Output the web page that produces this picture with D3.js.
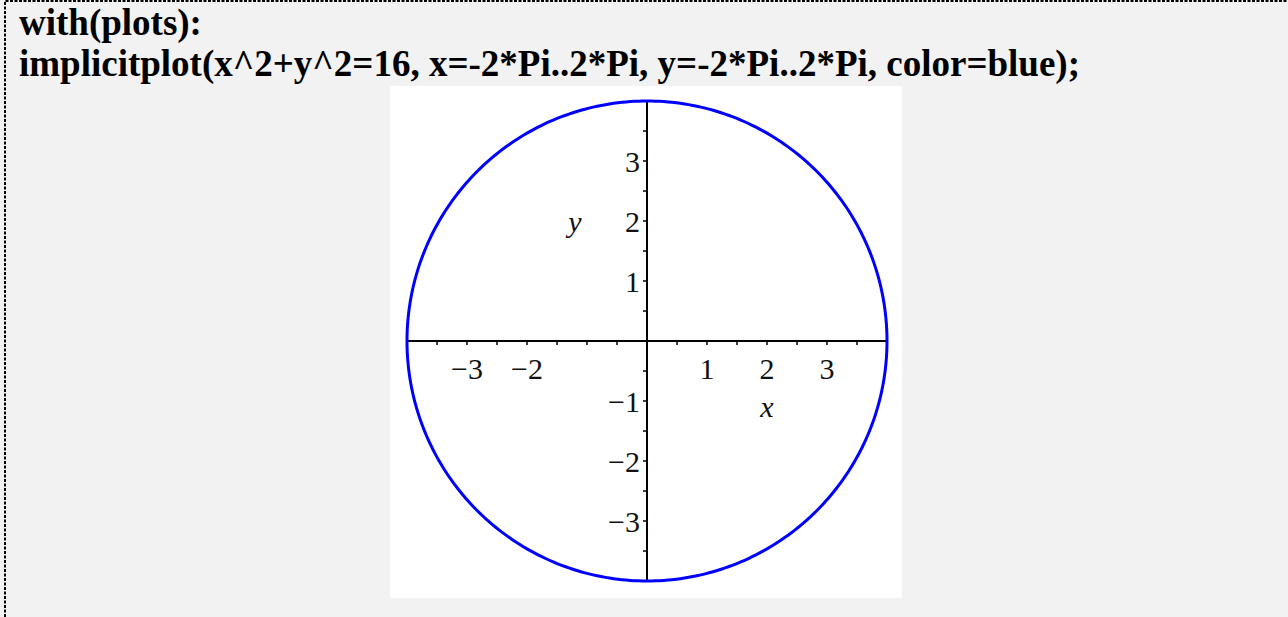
<!DOCTYPE html>
<html>
<head>
<meta charset="utf-8">
<script src="https://cdn.jsdelivr.net/npm/d3@7"></script>
<style>
  html, body { margin: 0; padding: 0; background: #f2f2f2; }
  svg { display: block; }
</style>
</head>
<body>
<svg id="chart" width="1288" height="617"></svg>
<script>
// Worksheet input lines
const commandLines = [
  "with(plots):",
  "implicitplot(x^2+y^2=16, x=-2*Pi..2*Pi, y=-2*Pi..2*Pi, color=blue);"
];

// Implicit curve x^2 + y^2 = rhs
const rhs = 16;

// Axis ticks
const xDomain = [-4, 4];
const yDomain = [-4, 4];
const minorTicks = [-3.5, -3, -2.5, -2, -1.5, -1, -0.5, 0.5, 1, 1.5, 2, 2.5, 3, 3.5];
const xTickLabels = [-3, -2, 1, 2, 3];
const yTickLabels = [3, 2, 1, -1, -2, -3];
const axisNames = { x: "x", y: "y" };

const svg = d3.select("#chart");
const W = 1288, H = 617;

// dashed frame around the worksheet region
svg.append("path")
  .attr("d", `M5,${H} L5,1 L${W},1`)
  .attr("fill", "none")
  .attr("stroke", "#000")
  .attr("stroke-width", 2)
  .attr("stroke-dasharray", "3,1.5");

// command text
svg.selectAll("text.cmd")
  .data(commandLines)
  .join("text")
  .attr("class", "cmd")
  .attr("x", 19)
  .attr("y", (d, i) => 35 + i * 41)
  .attr("font-family", "'Liberation Serif', 'Times New Roman', serif")
  .attr("font-weight", "bold")
  .attr("font-size", 37)
  .attr("fill", "#000")
  .text(d => d);

// plot panel
const panel = { x: 390, y: 86, w: 512, h: 512 };
svg.append("rect")
  .attr("x", panel.x).attr("y", panel.y)
  .attr("width", panel.w).attr("height", panel.h)
  .attr("fill", "#fff");

const x = d3.scaleLinear().domain(xDomain).range([407, 887]);
const y = d3.scaleLinear().domain(yDomain).range([581, 101]);

const g = svg.append("g");
const labelFont = "'Liberation Serif', 'Times New Roman', serif";

// horizontal axis line
g.append("line")
  .attr("x1", x(xDomain[0])).attr("x2", x(xDomain[1]))
  .attr("y1", y(0)).attr("y2", y(0))
  .attr("stroke", "#000").attr("stroke-width", 2);

// vertical axis line
g.append("line")
  .attr("x1", x(0)).attr("x2", x(0))
  .attr("y1", y(yDomain[1])).attr("y2", y(yDomain[0]))
  .attr("stroke", "#000").attr("stroke-width", 2);

// x ticks (below axis)
g.selectAll("line.xt")
  .data(minorTicks)
  .join("line")
  .attr("class", "xt")
  .attr("x1", d => x(d)).attr("x2", d => x(d))
  .attr("y1", y(0)).attr("y2", y(0) + 4)
  .attr("stroke", "#000").attr("stroke-width", 1.5);

// y ticks (left of axis)
g.selectAll("line.yt")
  .data(minorTicks)
  .join("line")
  .attr("class", "yt")
  .attr("x1", x(0) - 4).attr("x2", x(0))
  .attr("y1", d => y(d)).attr("y2", d => y(d))
  .attr("stroke", "#000").attr("stroke-width", 1.5);

// tick labels
const fmt = d => (d < 0 ? "\u2212" : "") + Math.abs(d);

g.selectAll("text.xl")
  .data(xTickLabels)
  .join("text")
  .attr("class", "xl")
  .attr("x", d => x(d))
  .attr("y", y(0) + 38)
  .attr("text-anchor", "middle")
  .attr("font-family", labelFont)
  .attr("font-size", 30)
  .attr("fill", "#111")
  .text(fmt);

g.selectAll("text.yl")
  .data(yTickLabels)
  .join("text")
  .attr("class", "yl")
  .attr("x", x(0) - 7)
  .attr("y", d => y(d) + 11)
  .attr("text-anchor", "end")
  .attr("font-family", labelFont)
  .attr("font-size", 30)
  .attr("fill", "#111")
  .text(fmt);

// axis names
g.append("text")
  .attr("x", x(2)).attr("y", y(0) + 76)
  .attr("text-anchor", "middle")
  .attr("font-family", labelFont)
  .attr("font-style", "italic")
  .attr("font-size", 30)
  .attr("fill", "#111")
  .text(axisNames.x);

g.append("text")
  .attr("x", x(-1.2)).attr("y", y(2) + 11)
  .attr("text-anchor", "middle")
  .attr("font-family", labelFont)
  .attr("font-style", "italic")
  .attr("font-size", 30)
  .attr("fill", "#111")
  .text(axisNames.y);

// curve: points satisfying x^2 + y^2 = rhs, one per sampled angle
const R = Math.sqrt(rhs);
const angles = d3.range(0, 361, 1).map(a => a * Math.PI / 180);
const pts = angles.map(t => [R * Math.cos(t), R * Math.sin(t)]);
g.append("path")
  .datum(pts)
  .attr("d", d3.line().x(d => x(d[0])).y(d => y(d[1])))
  .attr("fill", "none")
  .attr("stroke", "#0000ff")
  .attr("stroke-width", 3);
</script>
</body>
</html>
